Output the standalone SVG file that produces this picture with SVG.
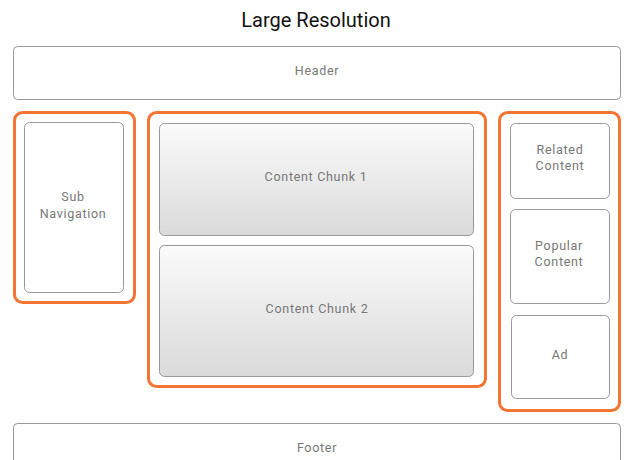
<svg xmlns="http://www.w3.org/2000/svg" width="634" height="460" viewBox="0 0 634 460">
<defs>
<linearGradient id="g" x1="0" y1="0" x2="0" y2="1">
<stop offset="0" stop-color="#fbfbfb"/>
<stop offset="1" stop-color="#dadada"/>
</linearGradient>
<style>
.grp{fill:none;stroke:#f47432;stroke-width:3}
.box{fill:#fff;stroke:#999;stroke-width:1}
.chunk{fill:url(#g);stroke:#999;stroke-width:1}
text{font-family:Roboto,"Liberation Sans",sans-serif;font-size:12.5px;letter-spacing:0.7px;fill:#777;text-anchor:middle;dominant-baseline:central}
.title{font-size:20px;letter-spacing:0;fill:#111}
</style>
</defs>
<rect width="634" height="460" fill="#fff"/>
<text class="title" x="316" y="20">Large Resolution</text>
<g id="header"><rect class="box" x="13.5" y="46.5" width="607" height="53" rx="4"/><text x="317" y="70">Header</text></g>
<g id="group-left"><rect class="grp" x="14.5" y="112.5" width="120" height="190" rx="8"/></g>
<g id="subnav"><rect class="box" x="24.5" y="122.5" width="99" height="170" rx="5"/><text x="73" y="196">Sub</text><text x="73" y="213">Navigation</text></g>
<g id="group-middle"><rect class="grp" x="148.5" y="112.5" width="337" height="274" rx="8"/></g>
<g id="chunk1"><rect class="chunk" x="159.5" y="123.5" width="314" height="112" rx="5"/><text x="316" y="176">Content Chunk 1</text></g>
<g id="chunk2"><rect class="chunk" x="159.5" y="245.5" width="314" height="131" rx="5"/><text x="317" y="308">Content Chunk 2</text></g>
<g id="group-right"><rect class="grp" x="499.5" y="112.5" width="120" height="298" rx="8"/></g>
<g id="related"><rect class="box" x="510.5" y="123.5" width="99" height="75" rx="5"/><text x="560" y="149">Related</text><text x="560" y="165">Content</text></g>
<g id="popular"><rect class="box" x="510.5" y="209.5" width="99" height="94" rx="5"/><text x="559" y="245">Popular</text><text x="559" y="261">Content</text></g>
<g id="ad"><rect class="box" x="511.5" y="315.5" width="98" height="83" rx="5"/><text x="560" y="354">Ad</text></g>
<g id="footer"><rect class="box" x="13.5" y="423.5" width="607" height="53" rx="4"/><text x="317" y="447">Footer</text></g>
<g id="connectors"></g>
</svg>
